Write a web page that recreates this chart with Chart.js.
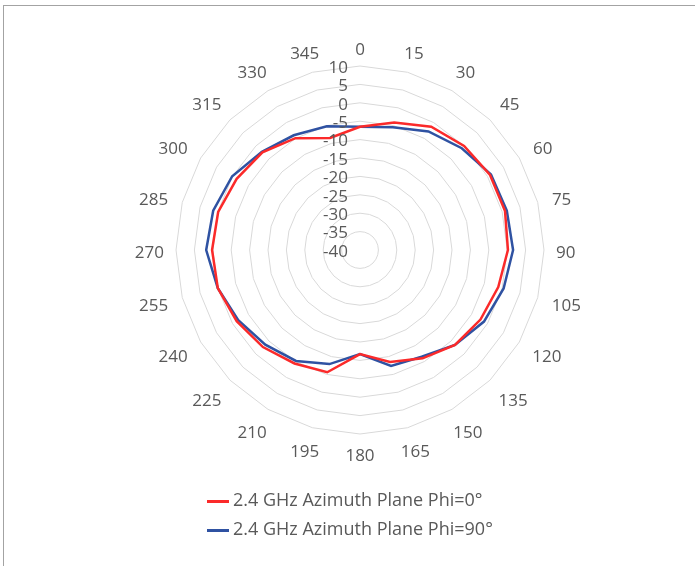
<!DOCTYPE html>
<html>
<head>
<meta charset="utf-8">
<script src="https://cdn.jsdelivr.net/npm/chart.js@4.4.1/dist/chart.umd.min.js"></script>
<style>
    body { margin: 0; background: #fff; font-family: 'Open Sans', sans-serif; }
    #wrap { position: relative; width: 695px; height: 566px; overflow: hidden; }
    #frame { position: absolute; left: 3px; top: 5px; width: 800px; height: 700px; border: 1px solid #a3a3a3; }
    #chart { position: absolute; left: 0; top: 0; }
    #legend { position: absolute; left: 207px; top: 485px; }
    .item { height: 29px; line-height: 29px; font-size: 18px; color: #595959; white-space: nowrap; }
    .swatch { display: inline-block; width: 22px; height: 3px; vertical-align: middle; margin-right: 4px; position: relative; top: 0px; }
</style>
</head>
<body>
<div id="wrap">
    <div id="frame"></div>
    <canvas id="chart" width="695" height="566"></canvas>
    <div id="legend"></div>
</div>
<script>
// angles (degrees)
const angles = ['0', '15', '30', '45', '60', '75', '90', '105', '120', '135', '150', '165',
                '180', '195', '210', '225', '240', '255', '270', '285', '300', '315', '330', '345'];

// gain in dBi
const phi0 = [-6.5, -4.1, -1.3, 0, 0.8, 0.8, 0.2, -1.1, -2.2, -3.5, -6.0, -8.5,
              -11.7, -5.6, -4.4, -2.7, -1.3, 0, 0.2, -0.1, -1.3, -2.5, -4.9, -8.5];
const phi90 = [-6.5, -5.5, -2.8, -0.9, 1.1, 1.3, 1.6, 0.4, -1.1, -3.5, -6.5, -7.4,
               -11.7, -7.9, -5.2, -3.6, -1.8, 0, 1.8, 1.3, 0.1, -2.3, -4.0, -5.2];

const seriesNames = ['2.4 GHz Azimuth Plane Phi=0°', '2.4 GHz Azimuth Plane Phi=90°'];
const axisMin = -40;
const axisMax = 10;
const axisStep = 5;

const FONT = "17px 'Open Sans', sans-serif";
const TEXT_COLOR = '#595959';

Chart.defaults.font.family = "'Open Sans', sans-serif";
Chart.defaults.color = TEXT_COLOR;

// Excel-style labels: ticks right-aligned left of the vertical spoke,
// angle labels sitting just outside the outer ring
const excelLabels = {
    id: 'excelLabels',
    afterDatasetsDraw(chart) {
        const s = chart.scales.r;
        const ctx = chart.ctx;
        ctx.save();
        ctx.font = FONT;
        ctx.fillStyle = TEXT_COLOR;
        ctx.textBaseline = 'middle';

        ctx.textAlign = 'right';
        s.ticks.forEach(t => {
            const y = s.yCenter - s.getDistanceFromCenterForValue(t.value);
            ctx.fillText(t.label, s.xCenter - 12, y + 2);
        });

        ctx.textAlign = 'center';
        chart.data.labels.forEach((lab, i) => {
            const a = s.getIndexAngle(i);
            const d = s.drawingArea + 12 + 6 * Math.abs(Math.sin(2 * a));
            const p = s.getPointPosition(i, d);
            const dx = (p.x - s.xCenter) / d;
            const dy = (p.y - s.yCenter) / d;
            const w = ctx.measureText(lab).width;
            ctx.fillText(lab, p.x + dx * w / 2, p.y + dy * 7 + 3);
        });
        ctx.restore();
    }
};

const chart = new Chart(document.getElementById('chart').getContext('2d'), {
    type: 'radar',
    data: {
        labels: angles,
        datasets: [
            {
                label: seriesNames[0],
                data: phi0,
                borderColor: '#fb2a2a',
                backgroundColor: 'transparent',
                borderWidth: 2.5,
                pointRadius: 0,
                fill: false
            },
            {
                label: seriesNames[1],
                data: phi90,
                borderColor: '#2f52a2',
                backgroundColor: 'transparent',
                borderWidth: 2.5,
                pointRadius: 0,
                fill: false
            }
        ]
    },
    options: {
        responsive: false,
        animation: false,
        layout: { padding: { left: 26, right: 0, top: 66, bottom: 132 } },
        plugins: {
            legend: { display: false },
            tooltip: { enabled: false }
        },
        scales: {
            r: {
                min: axisMin,
                max: axisMax,
                ticks: { stepSize: axisStep, display: false },
                grid: { color: '#d9d9d9', lineWidth: 1 },
                angleLines: { display: false },
                pointLabels: { display: false }
            }
        }
    },
    plugins: [excelLabels]
});

// legend stacked in two rows
const legend = document.getElementById('legend');
chart.data.datasets.forEach(ds => {
    const div = document.createElement('div');
    div.className = 'item';
    div.innerHTML = `<span class="swatch" style="background:${ds.borderColor}"></span>${ds.label}`;
    legend.appendChild(div);
});
</script>
</body>
</html>
